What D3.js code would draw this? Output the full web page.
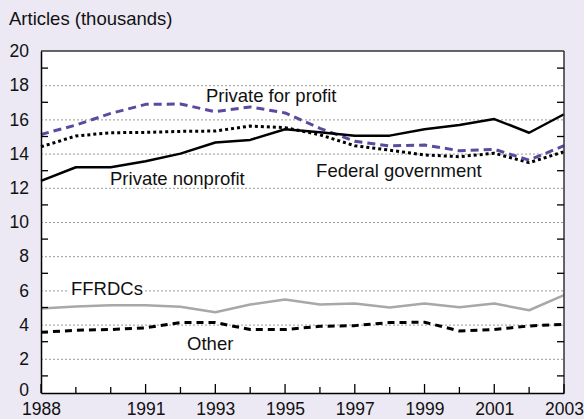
<!DOCTYPE html>
<html>
<head>
<meta charset="utf-8">
<script src="https://cdn.jsdelivr.net/npm/d3@7"></script>
<style>
  html, body { margin: 0; padding: 0; background: #ECE9F4; }
  svg { display: block; font-family: "Liberation Sans", Arial, Helvetica, sans-serif; }
</style>
</head>
<body>
<svg id="chart" width="584" height="419"></svg>
<script>
const years = [1988,1989,1990,1991,1992,1993,1994,1995,1996,1997,1998,1999,2000,2001,2002,2003];
const privateNonprofit = [12.4,13.2,13.2,13.55,14.0,14.65,14.8,15.42,15.25,15.05,15.05,15.42,15.67,16.02,15.22,16.3];
const privateForProfit = [15.12,15.67,16.35,16.88,16.9,16.45,16.73,16.38,15.48,14.72,14.45,14.5,14.17,14.25,13.62,14.46];
const federalGov = [14.4,15.03,15.22,15.24,15.3,15.32,15.61,15.52,15.1,14.46,14.2,13.92,13.82,14.02,13.47,14.11];
const ffrdcs = [4.94,5.06,5.13,5.13,5.04,4.72,5.17,5.47,5.17,5.23,5.0,5.23,5.02,5.23,4.84,5.72];
const other = [3.55,3.67,3.71,3.81,4.12,4.12,3.71,3.71,3.9,3.94,4.12,4.14,3.63,3.71,3.92,4.02];
const xTickLabels = [1988,1991,1993,1995,1997,1999,2001,2003];
const yTickLabels = [0,2,4,6,8,10,12,14,16,18,20];
const yTitle = "Articles (thousands)";

const series = [
  {name: "Other", values: other, color: "#000", width: 3, dash: "7,5"},
  {name: "FFRDCs", values: ffrdcs, color: "#A8A8A8", width: 2.5, dash: null},
  {name: "Federal government", values: federalGov, color: "#000", width: 3, dash: "3,3"},
  {name: "Private for profit", values: privateForProfit, color: "#5B4A9E", width: 3, dash: "8,5"},
  {name: "Private nonprofit", values: privateNonprofit, color: "#000", width: 2.5, dash: null}
];
const labels = [
  {text: "Private for profit", year: 1992.73, value: 17.04},
  {text: "Private nonprofit", year: 1989.98, value: 12.16},
  {text: "Federal government", year: 1995.89, value: 12.66},
  {text: "FFRDCs", year: 1988.86, value: 5.72, bg: true},
  {text: "Other", year: 1992.19, value: 2.54}
];

const W = 584, H = 419;
const m = {left: 41, right: 20, top: 51, bottom: 26};
const labelSize = 18.5, tickSize = 17.5;
const svg = d3.select("#chart");
const x = d3.scaleLinear().domain([1988, 2003]).range([m.left, W - m.right]);
const y = d3.scaleLinear().domain([0, 20]).range([H - m.bottom, m.top]);

svg.append("rect").attr("width", W).attr("height", H).attr("fill", "#ECE9F4");
svg.append("rect")
  .attr("x", x(1988)).attr("y", y(20))
  .attr("width", x(2003) - x(1988)).attr("height", y(0) - y(20))
  .attr("fill", "#fff");

// gridlines
svg.append("g").selectAll("line")
  .data(yTickLabels.filter(v => v > 0 && v < 20))
  .join("line")
  .attr("x1", x(1988)).attr("x2", x(2003))
  .attr("y1", d => y(d) + 0.5).attr("y2", d => y(d) + 0.5)
  .attr("stroke", "#9a9a9a").attr("stroke-width", 1).attr("stroke-dasharray", "2,2");

const labelG = svg.append("g").attr("font-size", labelSize).attr("fill", "#111");

// lines
const line = d3.line().x((d, i) => x(years[i])).y(d => y(d));
svg.append("g").selectAll("path")
  .data(series)
  .join("path")
  .attr("d", d => line(d.values))
  .attr("fill", "none")
  .attr("stroke", d => d.color)
  .attr("stroke-width", d => d.width)
  .attr("stroke-dasharray", d => d.dash)
  .attr("stroke-linejoin", "round");

// labels
labels.forEach(l => {
  const t = labelG.append("text")
    .attr("x", x(l.year)).attr("y", y(l.value))
    .text(l.text);
  if (l.bg) {
    const bb = t.node().getBBox();
    labelG.insert("rect", "text")
      .attr("x", bb.x - 2).attr("y", bb.y + 2)
      .attr("width", bb.width + 4).attr("height", bb.height - 4)
      .attr("fill", "#fff");
  }
});

// frame: top and right borders
svg.append("line").attr("x1", x(1988)).attr("x2", x(2003)).attr("y1", y(20)).attr("y2", y(20))
  .attr("stroke", "#333").attr("stroke-width", 1.5);
svg.append("line").attr("x1", x(2003)).attr("x2", x(2003)).attr("y1", y(20)).attr("y2", y(0))
  .attr("stroke", "#333").attr("stroke-width", 1.5);

// left axis
const yAxis = d3.axisLeft(y).tickValues(yTickLabels).tickSize(0).tickPadding(12);
const gy = svg.append("g").attr("transform", `translate(${x(1988)},0)`).call(yAxis);
gy.select(".domain").attr("stroke", "#000").attr("stroke-width", 1.5);
gy.selectAll("text").attr("font-size", tickSize).attr("fill", "#111")
  .attr("font-family", "'Liberation Sans', Arial, sans-serif");
gy.selectAll(".tick").filter(d => d === 0).select("text").attr("transform", "translate(0,-3.5)");

// odd minor ticks inward, left and right
const oddTicks = d3.range(1, 20, 2);
svg.append("g").selectAll("line").data(oddTicks).join("line")
  .attr("x1", x(1988)).attr("x2", x(1988) + 7)
  .attr("y1", d => y(d)).attr("y2", d => y(d))
  .attr("stroke", "#000").attr("stroke-width", 1.3);
svg.append("g").selectAll("line").data(oddTicks).join("line")
  .attr("x1", x(2003)).attr("x2", x(2003) - 7)
  .attr("y1", d => y(d)).attr("y2", d => y(d))
  .attr("stroke", "#000").attr("stroke-width", 1.3);

// bottom axis
const xAxis = d3.axisBottom(x).tickValues(years)
  .tickSize(0).tickPadding(9.5)
  .tickFormat(d => xTickLabels.includes(d) ? String(d) : "");
const gx = svg.append("g").attr("transform", `translate(0,${y(0)})`).call(xAxis);
gx.select(".domain").attr("stroke", "#000").attr("stroke-width", 1.5);
gx.selectAll("text").attr("font-size", tickSize).attr("fill", "#111")
  .attr("font-family", "'Liberation Sans', Arial, sans-serif");
svg.append("g").selectAll("line").data(years).join("line")
  .attr("x1", d => x(d)).attr("x2", d => x(d))
  .attr("y1", y(0)).attr("y2", d => y(0) - (xTickLabels.includes(d) ? 9 : 6))
  .attr("stroke", "#000").attr("stroke-width", 1.3);

// y title
svg.append("text").attr("x", 9).attr("y", 24.5)
  .attr("font-size", labelSize).attr("fill", "#111").text(yTitle);
</script>
</body>
</html>
